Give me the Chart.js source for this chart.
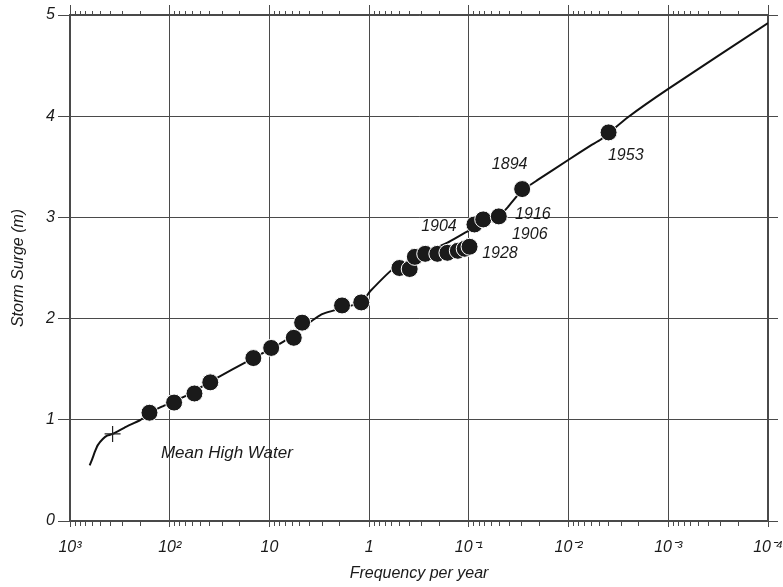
<!DOCTYPE html>
<html><head><meta charset="utf-8">
<script src="https://cdn.jsdelivr.net/npm/chart.js@4/dist/chart.umd.min.js"></script>
<style>html,body{margin:0;padding:0;background:#fff}</style>
</head><body>
<canvas id="c" width="783" height="587"></canvas>
<script>
// ---- data ----
const xTickValues = [1e3, 1e2, 1e1, 1, 1e-1, 1e-2, 1e-3, 1e-4];
const xTickLabels = ['10³', '10²', '10', '1', '10⁻¹', '10⁻²', '10⁻³', '10⁻⁴'];
const yTickValues = [0, 1, 2, 3, 4, 5];

const surgeFreq   = [159.6, 90.4, 56.5, 39.2, 14.5, 9.6, 5.7, 4.7, 1.87, 1.20,
                     0.497, 0.392, 0.348, 0.274, 0.207, 0.164, 0.129, 0.110, 0.0984,
                     0.0879, 0.0718, 0.0501, 0.0292, 0.00397];
const surgeHeight = [1.07, 1.17, 1.26, 1.37, 1.61, 1.71, 1.81, 1.96, 2.13, 2.16,
                     2.50, 2.49, 2.61, 2.64, 2.64, 2.65, 2.67, 2.69, 2.71,
                     2.93, 2.98, 3.01, 3.28, 3.84];

const curveFreq   = [635, 600, 560, 526, 469, 420, 374, 275, 196, 160, 120, 71.4, 32.8, 17.2, 7.3, 3.03,
                     1.2, 0.977, 0.56, 0.164, 0.1, 0.0501, 0.040, 0.0297, 0.0204, 0.01,
                     0.00603, 0.00475, 0.00254, 0.001, 0.0001];
const curveHeight = [0.55, 0.61, 0.69, 0.75, 0.81, 0.845, 0.86, 0.93, 1.00, 1.07, 1.13, 1.23, 1.42, 1.57, 1.77, 2.04,
                     2.16, 2.27, 2.50, 2.75, 2.87, 3.01, 3.11, 3.26, 3.37, 3.57,
                     3.71, 3.77, 3.99, 4.27, 4.92];

const mhwFreq   = [374];
const mhwHeight = [0.86];

const labelTexts  = ['1894', '1916', '1906', '1928', '1904', '1953', 'Mean High Water'];
const labelFreq   = [0.039, 0.0228, 0.0245, 0.0488, 0.1995, 0.00267, 26.7];
const labelHeight = [3.52, 3.03, 2.83, 2.64, 2.91, 3.61, 0.67];

// ---- chart ----
const FONT = "'Liberation Sans', Arial, Helvetica, sans-serif";
const GRID = '#4a4a4a';

function decadeTicks(scale) {
  scale.ticks = xTickValues.map(v => ({ value: v }));
}
function noSidePadding(s) {
  s.paddingLeft = 0; s.paddingRight = 0;
}

const minorTicks = {
  id: 'minorTicks',
  afterDraw(chart) {
    const ctx = chart.ctx, xs = chart.scales.x, ys = chart.scales.y, a = chart.chartArea;
    ctx.save();
    ctx.strokeStyle = GRID;
    ctx.lineWidth = 1;
    for (let d = -4; d < 3; d++) {
      for (let m = 2; m <= 9; m++) {
        const px = Math.round(xs.getPixelForValue(m * Math.pow(10, d))) + 0.5;
        ctx.beginPath();
        ctx.moveTo(px, a.top); ctx.lineTo(px, a.top - 4);
        ctx.moveTo(px, a.bottom); ctx.lineTo(px, a.bottom + 5);
        ctx.stroke();
      }
    }
    ctx.fillStyle = '#1a1a1a';
    ctx.textAlign = 'center';
    ctx.textBaseline = 'middle';
    labelTexts.forEach((t, i) => {
      ctx.font = 'italic ' + (t.length > 4 ? 17 : 16) + 'px ' + FONT;
      ctx.fillText(t, xs.getPixelForValue(labelFreq[i]), ys.getPixelForValue(labelHeight[i]));
    });
    ctx.restore();
  }
};

new Chart(document.getElementById('c'), {
  data: {
    datasets: [
      {
        type: 'scatter',
        data: surgeFreq.map((f, i) => ({ x: f, y: surgeHeight[i] })),
        pointRadius: 8.5,
        pointBackgroundColor: '#1a1a1a',
        pointBorderColor: '#ffffff',
        pointBorderWidth: 1,
        order: 0
      },
      {
        type: 'scatter',
        data: mhwFreq.map((f, i) => ({ x: f, y: mhwHeight[i] })),
        pointStyle: 'cross',
        pointRadius: 8,
        pointBorderColor: '#222',
        pointBorderWidth: 1.2,
        order: 0
      },
      {
        type: 'line',
        data: curveFreq.map((f, i) => ({ x: f, y: curveHeight[i] })),
        borderColor: '#111',
        borderWidth: 2,
        pointRadius: 0,
        tension: 0.15,
        fill: false,
        order: 2
      }
    ]
  },
  options: {
    responsive: false,
    animation: false,
    events: [],
    layout: { padding: 0 },
    plugins: { legend: { display: false }, tooltip: { enabled: false } },
    scales: {
      x: {
        type: 'logarithmic', position: 'bottom', reverse: true,
        min: 1e-4, max: 1e3,
        afterBuildTicks: decadeTicks,
        afterFit(s) { s.height = 66; noSidePadding(s); },
        ticks: {
          autoSkip: false, maxRotation: 0, padding: 11,
          color: '#1a1a1a', font: { family: FONT, size: 16, style: 'italic' },
          callback: (v, i) => xTickLabels[i]
        },
        grid: { color: GRID, lineWidth: 1, tickLength: 6 },
        border: { display: true, color: GRID, width: 1.3 },
        title: {
          display: true, text: 'Frequency per year', color: '#1a1a1a',
          font: { family: FONT, size: 16, style: 'italic' }, padding: { top: 2, bottom: 4 }
        }
      },
      xTop: {
        type: 'logarithmic', position: 'top', reverse: true,
        min: 1e-4, max: 1e3,
        afterBuildTicks: decadeTicks,
        afterFit(s) { s.height = 15; noSidePadding(s); },
        ticks: { display: false },
        grid: { drawOnChartArea: false, drawTicks: true, tickLength: 10, color: GRID },
        border: { display: true, color: GRID, width: 1.3 }
      },
      y: {
        type: 'linear', position: 'left', min: 0, max: 5,
        afterFit(s) { s.width = 70; },
        ticks: {
          stepSize: 1, padding: 3, color: '#1a1a1a',
          font: { family: FONT, size: 16, style: 'italic' },
          callback: v => yTickValues.includes(v) ? String(v) : ''
        },
        grid: { color: GRID, lineWidth: 1, tickLength: 12 },
        border: { display: true, color: GRID, width: 1.3 },
        title: {
          display: true, text: 'Storm Surge (m)', color: '#1a1a1a',
          font: { family: FONT, size: 16, style: 'italic' }, padding: { top: 9, bottom: 0 }
        }
      },
      yR: {
        type: 'linear', position: 'right', min: 0, max: 5,
        afterFit(s) { s.width = 15; },
        ticks: { display: false, stepSize: 1 },
        grid: { drawOnChartArea: false, drawTicks: true, tickLength: 10, color: GRID },
        border: { display: true, color: GRID, width: 1.3 }
      }
    }
  },
  plugins: [minorTicks]
});
</script>
</body></html>
